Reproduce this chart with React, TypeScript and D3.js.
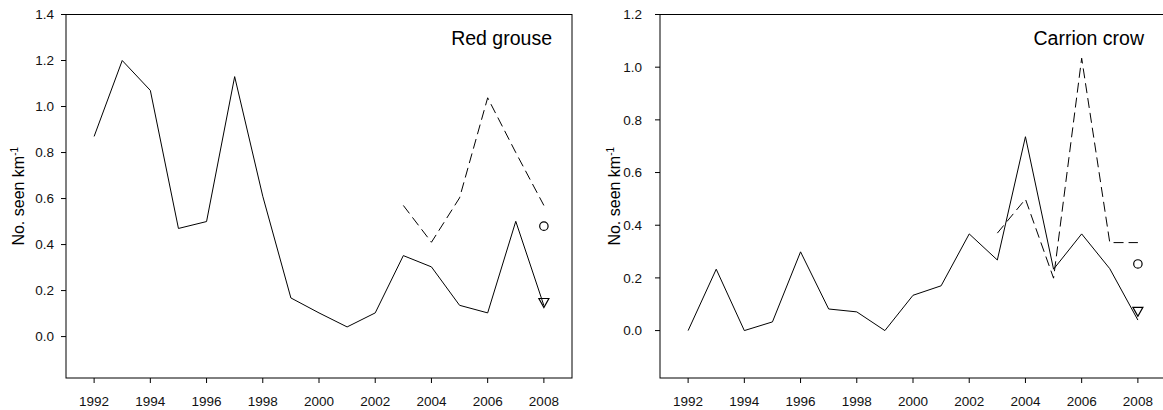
import React from "react";
import * as d3 from "d3";

const years = [1992, 1993, 1994, 1995, 1996, 1997, 1998, 1999, 2000, 2001, 2002, 2003, 2004, 2005, 2006, 2007, 2008];
const dashedYears = [2003, 2004, 2005, 2006, 2007, 2008];
const xTicks = [1992, 1994, 1996, 1998, 2000, 2002, 2004, 2006, 2008];

const grouseSolid = [0.87, 1.2, 1.07, 0.47, 0.5, 1.13, 0.61, 0.168, 0.103, 0.042, 0.103, 0.352, 0.303, 0.136, 0.103, 0.501, 0.135];
const grouseDashed = [0.57, 0.41, 0.603, 1.038, 0.8, 0.57];
const grouseCircle = 0.48;
const grouseTriangle = 0.146;
const grouseTicks = [0.0, 0.2, 0.4, 0.6, 0.8, 1.0, 1.2, 1.4];

const crowSolid = [0.0, 0.233, 0.0, 0.033, 0.299, 0.082, 0.071, 0.0, 0.134, 0.17, 0.367, 0.268, 0.736, 0.233, 0.367, 0.235, 0.04];
const crowDashed = [0.37, 0.499, 0.199, 1.034, 0.334, 0.334];
const crowCircle = 0.253;
const crowTriangle = 0.071;
const crowTicks = [0.0, 0.2, 0.4, 0.6, 0.8, 1.0, 1.2];

const FONT = "'Liberation Sans', Arial, Helvetica, sans-serif";

type PanelProps = {
  left: number;
  right: number;
  top: number;
  bottom: number;
  yMax: number;
  yTicks: number[];
  solid: number[];
  dashed: number[];
  circle: number;
  triangle: number;
  title: string;
  titleRight: number;
  yLabelX: number;
  tickLabelGap: number;
};

function Panel(p: PanelProps) {
  const x = d3.scaleLinear().domain([1991, 2009]).range([p.left, p.right]);
  const y = d3.scaleLinear().domain([-0.18, p.yMax]).range([p.bottom, p.top]);
  const line = d3
    .line<[number, number]>()
    .x((d) => x(d[0]))
    .y((d) => y(d[1]));
  const solidPts: [number, number][] = years.map((yr, i) => [yr, p.solid[i]]);
  const dashedPts: [number, number][] = dashedYears.map((yr, i) => [yr, p.dashed[i]]);
  const fmt = d3.format(".1f");
  const cx = x(2008);
  const ty = y(p.triangle);
  const triPath = `M${cx - 5},${ty - 4.5}L${cx + 5},${ty - 4.5}L${cx},${ty + 4.5}Z`;
  const yMid = (p.top + p.bottom) / 2 + 14;
  return (
    <g>
      <rect x={p.left} y={p.top} width={p.right - p.left} height={p.bottom - p.top} fill="none" stroke="#000" strokeWidth={1} />
      {p.yTicks.map((t) => (
        <g key={"y" + t}>
          <line x1={p.left - 5} x2={p.left} y1={y(t)} y2={y(t)} stroke="#000" />
          <text x={p.left - p.tickLabelGap} y={y(t)} dy="0.36em" textAnchor="end" fontSize={13.5} fontFamily={FONT} fill="#111">
            {fmt(t)}
          </text>
        </g>
      ))}
      {xTicks.map((t) => (
        <g key={"x" + t}>
          <line x1={x(t)} x2={x(t)} y1={p.bottom} y2={p.bottom + 5} stroke="#000" />
          <text x={x(t)} y={p.bottom + 27.5} textAnchor="middle" fontSize={13.5} fontFamily={FONT} fill="#111">
            {t}
          </text>
        </g>
      ))}
      <path d={line(solidPts) || ""} fill="none" stroke="#000" strokeWidth={1} />
      <path d={line(dashedPts) || ""} fill="none" stroke="#000" strokeWidth={1} strokeDasharray="10,5" />
      <circle cx={cx} cy={y(p.circle)} r={4.2} fill="none" stroke="#000" strokeWidth={1.2} />
      <path d={triPath} fill="none" stroke="#000" strokeWidth={1.2} />
      <text x={p.titleRight} y={45} textAnchor="end" fontSize={19.5} fontFamily={FONT} fill="#000">
        {p.title}
      </text>
      <text transform={`translate(${p.yLabelX},${yMid - 14}) rotate(-90)`} textAnchor="middle" fontSize={16} fontFamily={FONT} fill="#000">
        No. seen km
        <tspan fontSize={10} dy={-6}>-1</tspan>
      </text>
    </g>
  );
}

export default function App() {
  return (
    <svg width={1163} height={410} style={{ position: "absolute", left: 0, top: 0, background: "#fff" }}>
      <rect x={0} y={0} width={1163} height={410} fill="#fff" />
      <Panel
        left={66}
        right={572}
        top={14.5}
        bottom={378}
        yMax={1.4}
        yTicks={grouseTicks}
        solid={grouseSolid}
        dashed={grouseDashed}
        circle={grouseCircle}
        triangle={grouseTriangle}
        title="Red grouse"
        titleRight={552}
        yLabelX={24}
        tickLabelGap={12}
      />
      <Panel
        left={660}
        right={1166}
        top={14.5}
        bottom={378}
        yMax={1.2}
        yTicks={crowTicks}
        solid={crowSolid}
        dashed={crowDashed}
        circle={crowCircle}
        triangle={crowTriangle}
        title="Carrion crow"
        titleRight={1144}
        yLabelX={620}
        tickLabelGap={18}
      />
    </svg>
  );
}
